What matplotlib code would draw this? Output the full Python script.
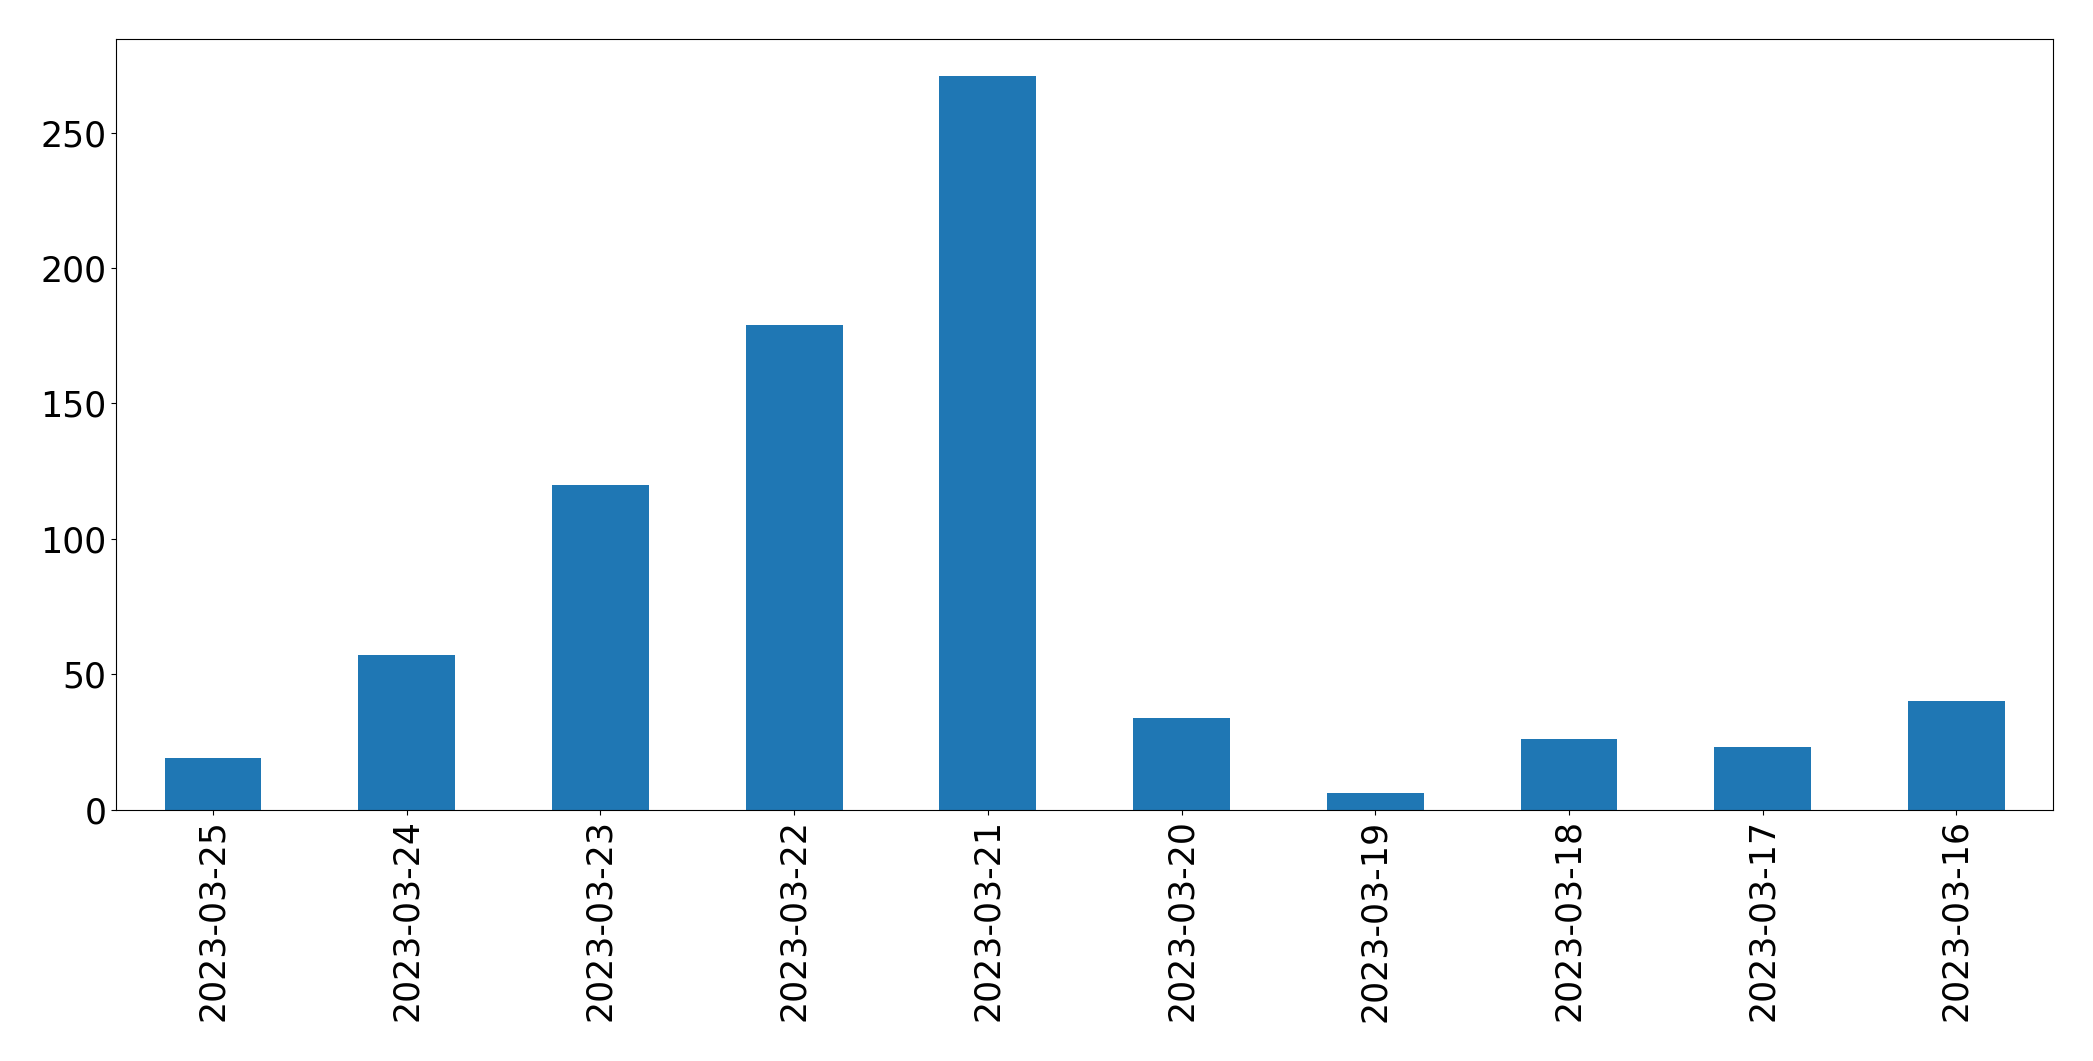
import numpy as np
import matplotlib
matplotlib.use('Agg')
import matplotlib.pyplot as plt

# daily counts, newest first
dates = ['2023-03-25', '2023-03-24', '2023-03-23', '2023-03-22', '2023-03-21',
         '2023-03-20', '2023-03-19', '2023-03-18', '2023-03-17', '2023-03-16']
counts = [19, 57, 120, 179, 271, 34, 6, 26, 23, 40]

fontsize = 25
fig, ax = plt.subplots(figsize=(20.93, 10.61), dpi=100)
fig.subplots_adjust(left=0.0555, right=0.981, top=0.963, bottom=0.237)

x = np.arange(len(dates))
ax.bar(x, counts, width=0.5, color='#1f77b4')
ax.set_xlim(-0.5, len(dates) - 0.5)
ax.set_ylim(0, max(counts) * 1.05)
ax.set_xticks(x)
ax.set_xticklabels(dates, rotation=90, fontsize=fontsize)
ax.tick_params(axis='y', labelsize=fontsize)

fig.savefig('out.png', dpi=100)
